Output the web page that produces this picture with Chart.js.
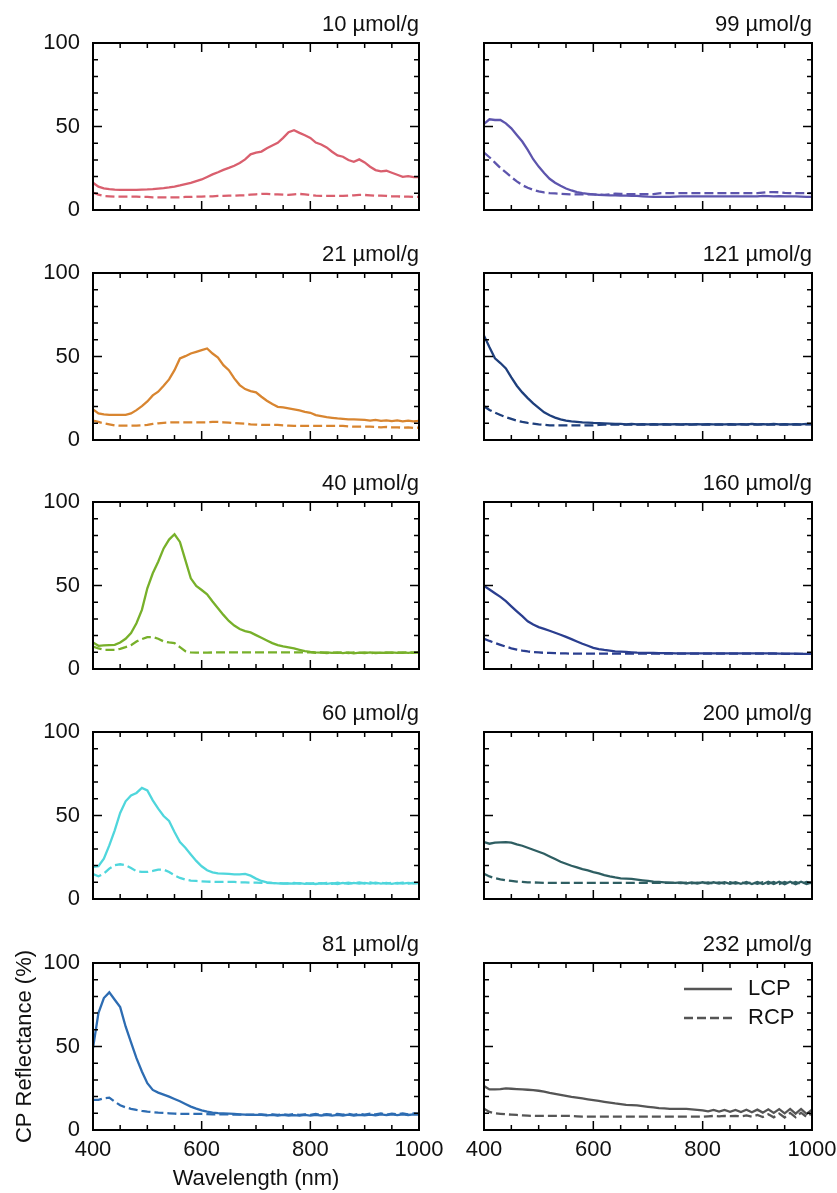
<!DOCTYPE html>
<html>
<head>
<meta charset="utf-8">
<script src="https://cdn.jsdelivr.net/npm/chart.js@4.4.1/dist/chart.umd.min.js"></script>
<style>
  html, body { margin: 0; padding: 0; background: #fff; }
  body { width: 837px; height: 1193px; position: relative; overflow: hidden; }
  canvas { position: absolute; display: block; }
</style>
</head>
<body>
<script>
// wavelength grid (nm)
const wavelength = [
  400, 410, 420, 430, 440, 450, 460, 470, 480, 490,
  500, 510, 520, 530, 540, 550, 560, 570, 580, 590,
  600, 610, 620, 630, 640, 650, 660, 670, 680, 690,
  700, 710, 720, 730, 740, 750, 760, 770, 780, 790,
  800, 810, 820, 830, 840, 850, 860, 870, 880, 890,
  900, 910, 920, 930, 940, 950, 960, 970, 980, 990,
  1000
];
const loadings = [10, 21, 40, 60, 81, 99, 121, 160, 200, 232];  // µmol/g
const xTicks = [400, 600, 800, 1000];
const yTicks = [0, 50, 100];

// CP reflectance (%), LCP = solid, RCP = dashed
const lcp10 = [16.3, 14.0, 13.0, 12.5, 12.2, 12.0, 12.0, 12.0, 12.0, 12.2,
  12.3, 12.5, 12.8, 13.1, 13.5, 14.0, 14.7, 15.5, 16.3, 17.3,
  18.3, 19.8, 21.3, 22.6, 24.0, 25.2, 26.5, 28.2, 30.3, 33.3,
  34.3, 35.0, 37.0, 38.6, 40.2, 43.2, 46.6, 47.8, 46.2, 44.8,
  43.2, 40.4, 39.2, 37.5, 34.9, 32.7, 31.9, 29.9, 28.9, 30.3,
  28.5, 25.9, 23.9, 23.1, 23.5, 22.3, 21.1, 19.9, 20.3, 19.7, 19.7];
const rcp10 = [10.4, 9.2, 8.4, 8.2, 8.0, 8.0, 8.0, 8.0, 8.0, 7.8,
  7.8, 7.6, 7.6, 7.6, 7.6, 7.6, 7.6, 7.8, 7.8, 8.0,
  8.0, 8.2, 8.2, 8.4, 8.4, 8.6, 8.6, 8.8, 8.8, 9.2,
  9.4, 9.6, 9.6, 9.4, 9.4, 9.2, 9.0, 9.4, 9.6, 9.4,
  9.0, 8.6, 8.4, 8.4, 8.4, 8.4, 8.4, 8.6, 8.8, 9.0,
  9.0, 8.8, 8.6, 8.6, 8.4, 8.2, 8.2, 8.0, 8.0, 7.8, 7.8];

const lcp21 = [18.3, 15.9, 15.3, 15.1, 15.0, 15.0, 15.1, 15.9, 17.9, 20.3,
  23.1, 26.7, 28.9, 32.5, 36.3, 41.8, 48.8, 50.2, 51.8, 52.8,
  53.8, 54.8, 51.8, 49.4, 44.8, 41.8, 36.9, 32.9, 30.5, 29.3,
  28.5, 25.9, 23.5, 21.5, 19.9, 19.5, 18.9, 18.3, 17.7, 16.9,
  16.3, 14.9, 14.3, 13.7, 13.3, 12.9, 12.7, 12.4, 12.4, 12.2,
  12.0, 11.6, 12.0, 11.4, 11.8, 11.3, 11.7, 11.2, 11.6, 11.1, 11.4];
const rcp21 = [11.6, 10.8, 10.0, 9.4, 8.8, 8.6, 8.6, 8.6, 8.6, 8.8,
  9.0, 9.6, 10.0, 10.3, 10.5, 10.6, 10.6, 10.6, 10.6, 10.6,
  10.6, 10.6, 10.8, 10.8, 10.6, 10.4, 10.2, 10.0, 9.8, 9.4,
  9.2, 9.0, 9.0, 9.0, 9.0, 8.8, 8.6, 8.4, 8.4, 8.4,
  8.4, 8.4, 8.4, 8.4, 8.4, 8.4, 8.4, 8.2, 8.0, 8.0,
  8.0, 8.0, 7.8, 7.6, 7.8, 7.6, 7.6, 7.4, 7.6, 7.2, 7.4];

const lcp40 = [15.9, 13.9, 14.1, 14.3, 14.5, 15.9, 18.1, 21.5, 27.4, 35.4,
  48.3, 57.3, 64.2, 72.2, 77.5, 80.7, 76.1, 65.2, 54.3, 49.7,
  47.3, 44.7, 40.4, 36.4, 32.4, 28.8, 26.0, 23.9, 22.7, 21.9,
  20.3, 18.7, 17.1, 15.5, 14.3, 13.5, 12.9, 12.3, 11.5, 10.7,
  10.3, 10.0, 9.8, 10.0, 9.6, 9.9, 9.5, 9.9, 9.4, 9.8,
  9.5, 9.9, 9.5, 9.8, 9.6, 10.0, 9.6, 9.9, 9.7, 10.0, 9.8];
const rcp40 = [13.5, 12.3, 11.5, 11.5, 11.5, 12.1, 13.1, 14.3, 16.5, 17.9,
  19.1, 19.1, 18.1, 16.5, 15.9, 15.5, 13.1, 10.7, 9.9, 9.8,
  9.8, 9.8, 9.9, 9.9, 9.9, 9.9, 9.9, 9.9, 9.9, 9.9,
  9.9, 9.9, 9.9, 9.9, 9.9, 9.9, 9.9, 9.9, 9.9, 9.9,
  9.9, 9.6, 10.0, 9.5, 9.9, 9.6, 10.0, 9.5, 9.9, 9.6,
  9.9, 9.5, 9.8, 9.6, 10.0, 9.6, 9.9, 9.7, 10.0, 9.7, 9.9];

const lcp60 = [19.2, 19.6, 24.2, 32.1, 41.1, 51.5, 58.5, 62.0, 63.5, 66.5,
  65.0, 59.1, 54.1, 49.7, 46.7, 40.1, 34.1, 30.7, 26.7, 22.8,
  19.6, 17.2, 16.0, 15.4, 15.2, 15.0, 14.8, 14.8, 15.0, 14.0,
  12.2, 10.8, 10.0, 9.6, 9.4, 9.2, 9.4, 9.2, 9.5, 9.1,
  9.4, 9.0, 9.5, 9.1, 9.5, 9.0, 9.6, 9.1, 9.7, 9.2,
  9.7, 9.2, 9.8, 9.2, 9.7, 9.1, 9.6, 9.2, 9.6, 9.3, 9.5];
const rcp60 = [15.0, 13.6, 15.2, 18.2, 20.2, 20.8, 20.2, 18.6, 16.6, 16.2,
  16.2, 16.8, 17.6, 17.6, 16.2, 14.2, 12.6, 11.6, 11.0, 10.8,
  10.6, 10.4, 10.3, 10.2, 10.2, 10.2, 10.2, 10.0, 10.0, 9.8,
  9.8, 9.6, 9.6, 9.5, 9.5, 9.4, 9.4, 9.6, 9.2, 9.6,
  9.1, 9.7, 9.2, 9.7, 9.1, 9.8, 9.2, 9.8, 9.3, 9.9,
  9.3, 9.9, 9.2, 9.8, 9.2, 9.7, 9.3, 9.8, 9.3, 9.7, 9.4];

const lcp81 = [49.0, 70.0, 79.0, 82.4, 78.0, 73.6, 62.0, 52.4, 43.0, 35.0,
  28.0, 24.0, 22.4, 21.2, 20.0, 18.6, 17.2, 15.6, 14.0, 12.8,
  11.8, 11.0, 10.4, 10.1, 10.0, 9.8, 9.6, 9.4, 9.2, 9.1,
  9.0, 9.0, 8.8, 9.1, 8.7, 9.0, 8.6, 8.9, 8.6, 9.0,
  8.6, 9.0, 8.7, 9.1, 8.6, 9.0, 8.7, 9.2, 8.7, 9.1,
  8.8, 9.2, 8.8, 9.3, 8.9, 9.4, 8.9, 9.3, 9.0, 9.4, 9.2];
const rcp81 = [18.0, 18.0, 19.0, 19.4, 17.0, 14.8, 13.6, 12.7, 12.0, 11.4,
  11.0, 10.7, 10.4, 10.2, 10.0, 9.8, 9.6, 9.6, 9.6, 9.6,
  9.6, 9.5, 9.4, 9.4, 9.3, 9.3, 9.2, 9.2, 9.2, 9.2,
  9.2, 9.4, 9.0, 9.3, 9.0, 9.4, 9.1, 9.5, 9.0, 9.4,
  9.1, 9.6, 9.0, 9.5, 9.1, 9.7, 9.2, 9.6, 9.1, 9.8,
  9.2, 9.8, 9.3, 9.9, 9.2, 9.8, 9.4, 10.0, 9.3, 9.9, 9.6];

const lcp99 = [51.5, 54.3, 53.9, 53.9, 51.9, 48.9, 44.9, 41.0, 36.0, 30.4,
  26.0, 22.1, 18.7, 16.3, 14.5, 12.9, 11.7, 10.7, 10.1, 9.7,
  9.3, 9.1, 8.9, 8.8, 8.7, 8.6, 8.6, 8.5, 8.4, 8.2,
  8.0, 7.9, 7.8, 7.8, 7.8, 8.0, 8.1, 8.2, 8.2, 8.2,
  8.2, 8.2, 8.2, 8.2, 8.2, 8.2, 8.2, 8.2, 8.2, 8.2,
  8.2, 8.4, 8.3, 8.2, 8.3, 8.2, 8.2, 8.1, 8.0, 7.9, 7.8];
const rcp99 = [34.4, 31.6, 28.4, 25.2, 22.5, 19.7, 17.1, 14.9, 13.3, 12.1,
  11.1, 10.5, 10.1, 9.9, 9.7, 9.5, 9.3, 9.3, 9.3, 9.3,
  9.3, 9.2, 9.1, 9.4, 9.8, 9.6, 9.5, 9.5, 9.5, 9.5,
  9.5, 9.5, 10.0, 10.1, 10.1, 10.1, 10.1, 10.1, 10.1, 10.1,
  10.1, 10.1, 10.1, 10.1, 10.1, 10.1, 10.1, 10.1, 10.1, 10.1,
  10.1, 10.4, 10.7, 10.7, 10.6, 10.3, 10.1, 10.1, 10.1, 10.1, 10.1];

const lcp121 = [62.5, 55.5, 48.9, 46.1, 42.9, 37.5, 32.5, 28.5, 25.1, 21.9,
  19.2, 16.6, 14.8, 13.4, 12.4, 11.6, 11.2, 10.9, 10.6, 10.4,
  10.2, 10.1, 10.0, 9.8, 9.6, 9.6, 9.4, 9.6, 9.3, 9.5,
  9.3, 9.5, 9.4, 9.5, 9.3, 9.5, 9.4, 9.5, 9.4, 9.5,
  9.4, 9.5, 9.3, 9.4, 9.4, 9.5, 9.3, 9.5, 9.4, 9.6,
  9.4, 9.5, 9.3, 9.6, 9.4, 9.5, 9.3, 9.5, 9.4, 9.6, 9.5];
const rcp121 = [20.2, 18.0, 16.4, 15.0, 13.6, 12.6, 11.6, 10.8, 10.2, 9.8,
  9.4, 9.1, 8.8, 8.8, 8.8, 8.8, 8.8, 8.8, 8.8, 8.8,
  8.8, 9.0, 9.2, 9.2, 9.2, 9.2, 9.2, 9.2, 9.2, 9.2,
  9.2, 9.3, 9.2, 9.3, 9.2, 9.3, 9.2, 9.3, 9.2, 9.3,
  9.2, 9.3, 9.2, 9.4, 9.2, 9.3, 9.2, 9.4, 9.2, 9.3,
  9.2, 9.4, 9.2, 9.3, 9.2, 9.4, 9.2, 9.3, 9.2, 9.4, 9.3];

const lcp160 = [49.8, 47.6, 45.4, 43.2, 40.6, 37.5, 34.5, 31.6, 28.6, 26.6,
  25.1, 24.0, 22.9, 21.7, 20.5, 19.2, 17.9, 16.5, 15.1, 13.9,
  12.7, 11.9, 11.4, 11.0, 10.6, 10.4, 10.2, 10.0, 9.8, 9.7,
  9.6, 9.6, 9.5, 9.5, 9.5, 9.4, 9.4, 9.4, 9.4, 9.4,
  9.4, 9.4, 9.4, 9.4, 9.4, 9.3, 9.3, 9.3, 9.3, 9.3,
  9.3, 9.3, 9.3, 9.3, 9.2, 9.2, 9.2, 9.2, 9.1, 9.1, 9.0];
const rcp160 = [18.1, 16.8, 15.6, 14.5, 13.4, 12.4, 11.6, 11.0, 10.5, 10.1,
  9.9, 9.7, 9.6, 9.5, 9.4, 9.3, 9.2, 9.2, 9.2, 9.2,
  9.2, 9.2, 9.2, 9.2, 9.2, 9.2, 9.2, 9.2, 9.2, 9.2,
  9.2, 9.2, 9.2, 9.2, 9.2, 9.2, 9.2, 9.2, 9.2, 9.2,
  9.2, 9.2, 9.2, 9.2, 9.2, 9.2, 9.2, 9.2, 9.2, 9.2,
  9.2, 9.2, 9.2, 9.2, 9.2, 9.1, 9.1, 9.1, 9.1, 9.0, 9.0];

const lcp200 = [34.1, 33.1, 33.7, 33.9, 34.1, 33.7, 32.7, 31.9, 30.7, 29.5,
  28.3, 27.1, 25.5, 23.9, 22.3, 21.1, 19.9, 18.9, 17.9, 17.1,
  16.1, 15.3, 14.3, 13.5, 12.9, 12.4, 12.2, 12.0, 11.6, 11.2,
  10.8, 10.4, 10.2, 10.0, 9.8, 9.6, 9.9, 9.3, 9.9, 9.3,
  10.0, 9.2, 10.0, 9.2, 10.1, 9.1, 10.1, 9.1, 10.2, 9.0,
  10.2, 9.0, 10.3, 9.0, 10.3, 8.9, 10.3, 8.9, 10.3, 8.9, 10.0];
const rcp200 = [15.1, 13.5, 12.5, 11.8, 11.2, 10.8, 10.4, 10.2, 10.0, 9.9,
  9.8, 9.7, 9.6, 9.6, 9.6, 9.6, 9.6, 9.6, 9.6, 9.6,
  9.6, 9.6, 9.6, 9.6, 9.6, 9.6, 9.6, 9.6, 9.6, 9.6,
  9.6, 9.6, 9.6, 9.6, 9.6, 9.7, 9.5, 9.8, 9.4, 9.8,
  9.4, 9.9, 9.3, 9.9, 9.3, 10.0, 9.2, 10.0, 9.2, 10.1,
  9.1, 10.1, 9.1, 10.2, 9.0, 10.2, 9.0, 10.2, 9.0, 10.2, 9.4];

const lcp232 = [26.3, 24.3, 24.3, 24.5, 24.9, 24.7, 24.5, 24.3, 24.1, 23.9,
  23.5, 23.0, 22.3, 21.7, 21.1, 20.5, 19.9, 19.4, 18.9, 18.4,
  17.9, 17.4, 16.9, 16.4, 15.9, 15.5, 15.1, 14.9, 14.7, 14.3,
  13.9, 13.5, 13.1, 12.9, 12.7, 12.7, 12.7, 12.6, 12.4, 12.1,
  11.8, 11.2, 12.0, 11.0, 12.0, 10.9, 12.0, 10.8, 12.1, 10.6,
  12.2, 10.4, 12.4, 10.2, 12.5, 10.0, 12.6, 9.8, 12.6, 9.6, 12.2];
const rcp232 = [12.7, 10.8, 10.0, 9.7, 9.4, 9.2, 9.0, 8.8, 8.6, 8.4,
  8.4, 8.4, 8.4, 8.4, 8.4, 8.4, 8.4, 8.2, 8.0, 8.0,
  8.0, 8.0, 8.0, 8.0, 8.0, 8.0, 8.0, 8.0, 8.0, 8.0,
  8.0, 8.0, 8.0, 8.0, 8.0, 8.0, 8.0, 8.0, 8.0, 8.0,
  8.0, 8.2, 8.4, 8.2, 8.4, 8.3, 8.5, 8.2, 8.7, 8.0,
  9.0, 7.8, 9.4, 7.6, 9.8, 7.5, 10.2, 7.6, 10.4, 7.8, 10.0];

const lcpSeries = [lcp10, lcp21, lcp40, lcp60, lcp81, lcp99, lcp121, lcp160, lcp200, lcp232];
const rcpSeries = [rcp10, rcp21, rcp40, rcp60, rcp81, rcp99, rcp121, rcp160, rcp200, rcp232];
const lineColors = ['#d95f6e', '#d88530', '#77b02a', '#4fd6dc', '#2d6cb2',
                    '#5d55ad', '#1e3f7c', '#2a3e8f', '#2e5e62', '#555555'];

Chart.defaults.font.family = '"Liberation Sans", Arial, Helvetica, sans-serif';
Chart.defaults.font.size = 22;
Chart.defaults.color = '#111';

const rowTops = [43, 273, 502, 732, 963];   // top of each plot box
const plotH = 167, titleH = 43;

// closed frame with inward ticks on all four sides
const boxTicks = {
  id: 'boxTicks',
  afterDraw(chart) {
    const {ctx, chartArea: a, scales: {x, y}} = chart;
    ctx.save();
    ctx.strokeStyle = '#000';
    ctx.lineWidth = 1.5;
    ctx.beginPath();
    x.ticks.forEach(t => {
      const px = x.getPixelForValue(t.value);
      const len = xTicks.includes(t.value) ? 9 : 5;
      ctx.moveTo(px, a.bottom); ctx.lineTo(px, a.bottom - len);
      ctx.moveTo(px, a.top); ctx.lineTo(px, a.top + len);
    });
    y.ticks.forEach(t => {
      const py = y.getPixelForValue(t.value);
      const len = yTicks.includes(t.value) ? 9 : 5;
      ctx.moveTo(a.left, py); ctx.lineTo(a.left + len, py);
      ctx.moveTo(a.right, py); ctx.lineTo(a.right - len, py);
    });
    ctx.stroke();
    ctx.lineWidth = 2;
    ctx.strokeRect(a.left, a.top, a.right - a.left, a.bottom - a.top);
    ctx.restore();
  }
};

// LCP / RCP key inside the last panel, top right
const lineLegend = {
  id: 'lineLegend',
  afterDraw(chart) {
    const {ctx, chartArea: a} = chart;
    ctx.save();
    ctx.font = '22px "Liberation Sans", Arial, sans-serif';
    ctx.textBaseline = 'middle';
    chart.data.datasets.forEach((ds, k) => {
      const yy = a.top + 26 + k * 29;
      ctx.strokeStyle = ds.borderColor;
      ctx.lineWidth = ds.borderWidth;
      ctx.setLineDash(ds.borderDash || []);
      ctx.beginPath();
      ctx.moveTo(a.right - 128, yy);
      ctx.lineTo(a.right - 80, yy);
      ctx.stroke();
      ctx.fillStyle = '#111';
      ctx.fillText(ds.label, a.right - 64, yy);
    });
    ctx.restore();
  }
};

function makePanel(i) {
  const col = i < 5 ? 0 : 1;
  const row = i % 5;
  const bottom = row === 4;
  const canvas = document.createElement('canvas');
  canvas.width = col ? 393 : 460;
  canvas.height = titleH + plotH + (bottom ? 60 : 16);
  canvas.style.left = (col ? 454 : 0) + 'px';
  canvas.style.top = (rowTops[row] - titleH) + 'px';
  document.body.appendChild(canvas);

  new Chart(canvas, {
    type: 'line',
    data: {
      datasets: [
        {
          label: 'LCP',
          data: wavelength.map((w, k) => ({x: w, y: lcpSeries[i][k]})),
          borderColor: lineColors[i],
          borderWidth: 2.3,
          pointRadius: 0,
          tension: 0
        },
        {
          label: 'RCP',
          data: wavelength.map((w, k) => ({x: w, y: rcpSeries[i][k]})),
          borderColor: lineColors[i],
          borderWidth: 2.3,
          borderDash: [9, 4],
          pointRadius: 0,
          tension: 0
        }
      ]
    },
    options: {
      responsive: false,
      animation: false,
      devicePixelRatio: 1,
      layout: {padding: {left: col ? 30 : 0, right: col ? 35 : 41, top: 0, bottom: bottom ? 0 : 16}},
      plugins: {
        legend: {display: false},
        tooltip: {enabled: false},
        title: {
          display: true,
          text: loadings[i] + ' µmol/g',
          align: 'end',
          color: '#111',
          font: {size: 22, weight: 'normal', lineHeight: 1},
          padding: {top: 14, bottom: 7}
        }
      },
      scales: {
        x: {
          type: 'linear',
          min: 400,
          max: 1000,
          grid: {display: false, drawTicks: false},
          border: {display: false},
          ticks: {
            display: bottom,
            stepSize: 50,
            autoSkip: false,
            maxRotation: 0,
            minRotation: 0,
            padding: 7,
            callback: v => xTicks.includes(v) ? v : ''
          },
          title: {
            display: bottom && col === 0,
            text: 'Wavelength (nm)',
            font: {size: 22, lineHeight: 1},
            padding: {top: 0, bottom: 0}
          },
          afterFit: s => { s.height = bottom ? 60 : 0; }
        },
        y: {
          min: 0,
          max: 100,
          grid: {display: false, drawTicks: false},
          border: {display: false},
          ticks: {
            display: col === 0,
            stepSize: 10,
            autoSkip: false,
            padding: 13,
            callback: v => yTicks.includes(v) ? v : ''
          },
          title: {
            display: bottom && col === 0,
            text: 'CP Reflectance (%)',
            font: {size: 22, lineHeight: 1},
            padding: {top: 14, bottom: 0}
          },
          afterFit: s => {
            s.width = col ? 0 : 93;
            s.paddingTop = 0;
            s.paddingBottom = 0;
          }
        }
      }
    },
    plugins: i === 9 ? [boxTicks, lineLegend] : [boxTicks]
  });
}

for (let i = 0; i < loadings.length; i++) makePanel(i);
</script>
</body>
</html>
